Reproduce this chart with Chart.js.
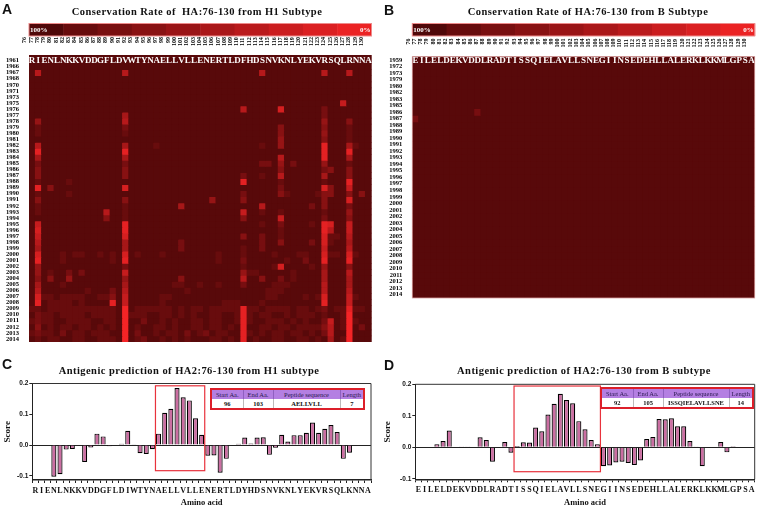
<!DOCTYPE html>
<html><head><meta charset="utf-8">
<script src="https://cdn.jsdelivr.net/npm/chart.js@4"></script>
<style>
html,body{margin:0;padding:0;background:#fff;width:758px;height:508px;overflow:hidden}
#page{position:relative;width:758px;height:508px;filter:blur(0.25px)}
canvas{position:absolute;display:block}
.t{position:absolute;font:bold 10.5px "Liberation Serif",serif;color:#111;letter-spacing:.45px;white-space:pre;transform:translate(-50%,-50%)}
.p{position:absolute;font:bold 14px "Liberation Sans",sans-serif;color:#111}
table{position:absolute;border-collapse:collapse;table-layout:fixed;border:2px solid #dc1f2a;background:#fff;font:bold 6.5px "Liberation Serif",serif;color:#111}
th,td{padding:0;height:9px;line-height:9px;text-align:center;border-left:1px solid #bbb;overflow:hidden;white-space:nowrap}
th{background:#b47fe2;font-weight:normal;color:#2a1a50;border-left:1px solid #8e5fc0}
</style></head><body><div id="page">
<div class="p" style="left:2px;top:1px">A</div>
<div class="p" style="left:384px;top:2px">B</div>
<div class="p" style="left:2px;top:356px">C</div>
<div class="p" style="left:384px;top:357px">D</div>
<div class="t" style="left:197px;top:11px">Conservation Rate of  HA:76-130 from H1 Subtype</div>
<div class="t" style="left:588px;top:11px">Conservation Rate of HA:76-130 from B Subtype</div>
<div class="t" style="left:189px;top:370px">Antigenic prediction of HA2:76-130 from H1 subtype</div>
<div class="t" style="left:584px;top:370px">Antigenic prediction of HA2:76-130 from B subtype</div>
<canvas id="a" width="380" height="330" style="left:0;top:20px"></canvas>
<canvas id="b" width="378" height="290" style="left:380px;top:20px"></canvas>
<canvas id="c" width="380" height="156" style="left:0;top:352px"></canvas>
<canvas id="d" width="378" height="156" style="left:380px;top:352px"></canvas>
<table id="tc" style="left:210px;top:388px;width:153px">
<colgroup><col style="width:32px"><col style="width:30px"><col style="width:67px"><col style="width:24px"></colgroup>
<tr><th>Start Aa.</th><th>End Aa.</th><th>Peptide sequence</th><th>Length</th></tr>
<tr><td>96</td><td>103</td><td>AELLVLL</td><td>7</td></tr></table>
<table id="td" style="left:600px;top:387px;width:152px">
<colgroup><col style="width:32px"><col style="width:30px"><col style="width:66px"><col style="width:24px"></colgroup>
<tr><th>Start Aa.</th><th>End Aa.</th><th>Peptide sequence</th><th>Length</th></tr>
<tr><td>92</td><td>105</td><td>ISSQIELAVLLSNE</td><td>14</td></tr></table>
</div>
<script>
const positions = [76,77,78,79,80,81,82,83,84,85,86,87,88,89,90,91,92,93,94,95,96,97,98,99,100,101,102,103,104,105,106,107,108,109,110,111,112,113,114,115,116,117,118,119,120,121,122,123,124,125,126,127,128,129,130];
const residuesA = ['R','I','E','N','L','N','K','K','V','D','D','G','F','L','D','V','W','T','Y','N','A','E','L','L','V','L','L','E','N','E','R','T','L','D','F','H','D','S','N','V','K','N','L','Y','E','K','V','R','S','Q','L','R','N','N','A'];
const residuesB = ['E','I','L','E','L','D','E','K','V','D','D','L','R','A','D','T','I','S','S','Q','I','E','L','A','V','L','L','S','N','E','G','I','I','N','S','E','D','E','H','L','L','A','L','E','R','K','L','K','K','M','L','G','P','S','A'];
const residuesC = ['R','I','E','N','L','N','K','K','V','D','D','G','F','L','D','I','W','T','Y','N','A','E','L','L','V','L','L','E','N','E','R','T','L','D','Y','H','D','S','N','V','K','N','L','Y','E','K','V','R','S','Q','L','K','N','N','A'];
const yearsA = [1961,1966,1967,1968,1970,1971,1973,1975,1976,1977,1978,1979,1980,1981,1982,1983,1984,1985,1986,1987,1988,1989,1990,1991,1992,1993,1994,1995,1996,1997,1998,1999,2000,2001,2002,2003,2004,2005,2006,2007,2008,2009,2010,2011,2012,2013,2014];
const yearsB = [1959,1972,1973,1979,1980,1982,1983,1985,1986,1987,1988,1989,1990,1991,1992,1993,1994,1995,1996,1997,1998,1999,2000,2001,2002,2003,2004,2005,2006,2007,2008,2009,2010,2011,2012,2013,2014];
// [year, column, level, column, level, ...]  level 0 (dark) .. 10 (bright)
const cellsA = [
[1967,1,6,15,6,37,6,47,6,51,6],
[1975,50,7],
[1976,34,6,40,8,47,2],
[1977,15,5,47,2],
[1978,1,4,15,6,47,4,51,3],
[1979,1,1,15,2,40,3,47,3,51,1],
[1980,1,1,15,1,40,3,47,4,51,1],
[1981,40,4,47,3,51,1],
[1982,1,6,15,5,20,1,37,1,40,4,47,9,51,5,52,1],
[1983,1,9,15,9,47,9,51,9],
[1984,1,5,15,5,40,6,47,9,51,5],
[1985,1,2,15,2,37,2,38,2,40,4,42,2,47,4,51,1],
[1986,1,3,15,3,40,3,47,2,48,3,51,3],
[1987,1,3,15,3,34,2,37,1,40,6,47,5,51,3],
[1988,1,1,6,1,34,9,40,1,47,1,51,9],
[1989,1,9,3,3,15,8,40,2,47,8,48,3,51,7],
[1990,1,1,6,1,34,2,40,3,41,1,46,1,47,3,48,3,51,3,53,3],
[1991,1,3,15,3,29,4,34,3,47,3,51,8],
[1992,1,1,15,1,24,5,37,6,45,2,47,3,51,2],
[1993,1,1,12,6,15,1,34,7,37,1,40,1,47,1,51,4],
[1994,12,3,15,1,34,3,40,7,47,2,51,3],
[1995,1,7,15,9,37,1,40,2,45,1,47,9,48,8,51,7],
[1996,1,8,15,9,40,1,47,9,48,6,51,7],
[1997,1,7,15,8,34,3,37,2,40,1,47,8,48,1,49,1,51,6],
[1998,1,6,15,5,24,2,37,2,40,3,45,2,47,8,48,1,51,5],
[1999,1,5,15,5,24,2,34,1,37,2,47,7,51,6],
[2000,1,8,5,1,7,1,8,1,11,1,13,1,15,8,17,1,21,1,30,1,34,1,39,1,43,1,44,1,47,8,48,1,49,1,51,8,52,1],
[2001,1,9,5,1,13,1,15,9,30,1,34,2,41,1,44,2,47,9,51,9],
[2002,1,4,15,2,34,1,39,1,40,8,45,1,47,4,51,3],
[2003,1,4,3,1,6,2,8,2,15,7,34,4,35,1,36,1,42,1,47,5,51,6],
[2004,1,3,3,3,6,4,15,4,24,3,34,6,37,3,40,2,42,1,47,5,51,5],
[2005,1,5,5,1,15,5,23,1,24,1,27,1,30,1,34,2,39,1,40,1,41,1,47,6,51,5],
[2006,1,6,9,1,13,2,15,6,25,1,38,1,39,1,40,1,47,6,51,6],
[2007,1,8,2,1,3,1,5,1,6,1,7,1,8,1,11,1,12,1,13,3,15,7,21,1,22,1,38,1,39,1,44,1,46,1,47,8,51,7,52,1],
[2008,1,9,3,1,4,1,5,1,6,1,8,1,13,9,15,7,21,1,31,1,32,1,33,1,37,1,47,9,51,7],
[2009,0,1,1,1,3,1,4,1,5,1,6,1,7,1,8,1,9,1,10,1,11,1,12,1,13,1,15,10,17,1,18,1,19,1,20,1,21,1,22,1,24,1,26,1,27,1,29,1,30,1,31,1,32,1,33,1,34,9,35,1,36,1,38,1,39,1,40,1,41,1,43,1,44,1,46,1,47,2,49,1,50,1,51,9,52,1,53,1],
[2010,1,2,2,1,3,1,5,1,6,1,7,1,8,1,10,1,11,1,12,1,13,1,15,10,16,1,17,1,18,1,21,1,22,1,24,1,26,1,29,1,30,1,33,1,34,9,35,1,37,1,38,1,41,1,43,1,44,1,45,1,47,1,50,1,51,10],
[2011,0,1,1,2,2,1,3,1,6,1,7,1,8,1,9,1,12,1,13,1,15,10,18,2,21,1,23,1,26,1,27,1,29,1,30,1,33,1,34,9,35,1,38,1,39,1,40,1,42,1,44,1,47,2,48,7,50,1,51,10,52,1],
[2012,1,3,3,1,5,1,6,1,8,1,9,1,11,1,13,1,15,10,17,1,20,1,21,1,23,1,26,1,27,1,29,1,30,1,32,1,34,9,37,1,38,1,40,1,41,1,43,1,44,1,45,1,46,1,47,3,48,6,50,1,51,10,53,2],
[2013,0,1,1,2,2,1,3,1,5,2,7,1,8,1,10,1,11,1,12,1,15,10,17,2,20,1,22,1,23,1,25,2,27,1,28,2,30,1,31,1,34,9,35,1,37,1,39,1,40,1,42,1,43,1,45,1,47,2,48,6,51,10],
[2014,1,1,3,1,4,1,7,1,8,1,11,1,12,1,13,1,15,10,17,1,18,2,21,1,23,1,25,1,29,1,30,1,32,1,34,9,36,1,39,1,40,1,43,1,44,1,46,1,48,5,50,1,51,10]
];
const cellsB = [[1986,10,2],[1987,0,2]];
const scoresC = [null,null,null,-0.103,-0.095,-0.015,-0.013,null,-0.055,-0.008,0.037,0.028,-0.004,-0.002,0.004,0.046,0.001,-0.027,-0.029,-0.014,0.037,0.105,0.118,0.185,0.155,0.145,0.087,0.033,-0.035,-0.034,-0.09,-0.045,0.002,0.004,0.024,0.005,0.024,0.025,-0.032,-0.009,0.033,0.011,0.032,0.032,0.04,0.073,0.04,0.053,0.065,0.042,-0.045,-0.025,null,null,null];
const scoresD = [null,null,null,0.01,0.02,0.053,null,0.001,0.001,0.002,0.032,0.023,-0.046,-0.002,0.017,-0.017,0.004,0.016,0.015,0.063,0.051,0.104,0.138,0.17,0.15,0.14,0.083,0.057,0.023,0.01,-0.06,-0.058,-0.048,-0.046,-0.05,-0.056,-0.042,0.026,0.033,0.09,0.089,0.092,0.067,0.067,0.02,0.001,-0.06,-0.002,-0.001,0.017,-0.016,0.003,null,null,null];
const legendLevels = [0,1,2,3,4,5,6,7,8,9];
const boxC = {first:20,last:27,top:0.1925,bottom:-0.0835};
const boxD = {first:16,last:29,top:0.1945,bottom:-0.0775};

const SERIF='"Liberation Serif",serif', SANS='"Liberation Sans",sans-serif';
function heat(level){const t=level/10;const r=Math.round(88+t*156),g=Math.round(9+t*27),b=Math.round(10+t*28);return `rgb(${r},${g},${b})`;}

function heatChart(id,years,cells,residues,extra,pad,frame){
  const levels=years.map(()=>positions.map(()=>0));
  cells.forEach(e=>{const r=years.indexOf(e[0]);for(let i=1;i<e.length;i+=2)levels[r][e[i]]=e[i+1];});
  const datasets=years.map((y,r)=>({label:String(y),data:positions.map(()=>r===0?1+extra:1),
    backgroundColor:levels[r].map(heat),borderWidth:0,barPercentage:1,categoryPercentage:1}));
  new Chart(document.getElementById(id),{type:'bar',data:{labels:positions.map(String),datasets},
   options:{responsive:false,animation:false,layout:{padding:pad},
    plugins:{legend:{display:false},tooltip:{enabled:false}},
    scales:{
     x:{position:'top',stacked:true,grid:{display:false},border:{display:false},
        afterFit(s){s.height=35;},
        ticks:{autoSkip:false,minRotation:90,maxRotation:90,padding:1,color:'#000',font:{family:SERIF,size:6,weight:'bold'},
               callback(v,i){const p=positions[i];return p<100?'\u2007'+p:String(p);}}},
     y:{reverse:true,stacked:true,min:0,max:years.length+extra,grid:{display:false},border:{display:false},
        afterFit(s){s.width=pad.yw;},
        afterBuildTicks(s){s.ticks=years.map((y,r)=>({value:r+extra+0.5}));},
        ticks:{autoSkip:false,padding:2,color:'#000',font:{family:SERIF,size:6.5,weight:'bold'},callback(v,i){return String(years[i]);}}}
    }},
   plugins:[{id:'heatExtras',
     beforeDatasetsDraw(c){const a=c.chartArea,x=c.ctx;x.save();x.fillStyle=heat(0);x.fillRect(a.left,a.top,a.width,a.height);x.restore();},
     afterDatasetsDraw(c){const a=c.chartArea,x=c.ctx,sx=c.scales.x,sy=c.scales.y;x.save();
       x.fillStyle='#fff';x.font='bold 9px '+SERIF;x.textAlign='center';x.textBaseline='middle';
       residues.forEach((t,i)=>x.fillText(t,sx.getPixelForValue(i),sy.getPixelForValue(extra+0.5)+0.5));
       const bt=3.5,bh=12.5,w=a.width/legendLevels.length;
       legendLevels.forEach((l,i)=>{x.fillStyle=heat(i===0?-0.5:l*1.05);x.fillRect(a.left+i*w,bt,w+0.5,bh);});
       x.strokeStyle='#ee8a8a';x.lineWidth=1;x.strokeRect(a.left,bt,a.width,bh);
       x.fillStyle='#fff';x.font='bold 7px '+SERIF;x.textAlign='left';x.fillText('100%',a.left+1,bt+bh/2);
       x.textAlign='right';x.fillText('0%',a.right-1,bt+bh/2);
       if(frame){x.strokeStyle=frame;x.lineWidth=0.8;x.strokeRect(a.left,a.top,a.width,a.height);}
       x.restore();}}]});
}
heatChart('a',yearsA,cellsA,residuesA,0.43,{left:0,right:8.5,top:0,bottom:8,yw:29},null);
heatChart('b',yearsB,cellsB,residuesB,0,{left:0,right:3.3,top:1.6,bottom:12,yw:32.3},'#d9a0a0');

function barChart(id,scores,residues,ymin,box,yw,right,top,bottom){
  new Chart(document.getElementById(id),{type:'bar',
   data:{labels:residues,datasets:[{data:scores,backgroundColor:'#cb6ea2',borderColor:'#000',borderWidth:1.2,barPercentage:0.82,categoryPercentage:1}]},
   options:{responsive:false,animation:false,layout:{padding:{left:0,right,top,bottom:0}},
    plugins:{legend:{display:false},tooltip:{enabled:false}},
    scales:{
     x:{grid:{drawOnChartArea:false,color:'#222',tickLength:3,lineWidth:1},border:{color:'#222',width:1.5},
        afterFit(s){s.height=bottom;},
        title:{display:true,text:'Amino acid',color:'#111',font:{family:SERIF,size:8.5,weight:'bold'},padding:{top:0,bottom:0}},
        ticks:{autoSkip:false,maxRotation:0,minRotation:0,padding:3,color:'#111',font:{family:SERIF,size:8,weight:'bold'}}},
     y:{min:ymin,max:0.2,
        afterFit(s){s.width=yw;},
        grid:{color:c=>Math.abs(c.tick.value)<1e-9?'#222':'transparent',tickColor:'#222',tickLength:3,lineWidth:1},
        border:{color:'#222',width:1},
        title:{display:true,text:'Score',color:'#111',font:{family:SERIF,size:9,weight:'bold'},padding:{top:2,bottom:0}},
        ticks:{stepSize:0.1,includeBounds:false,padding:1,color:'#111',font:{family:SANS,size:6.5,weight:'bold'},callback:v=>Number(v).toFixed(1)}}
    }},
   plugins:[{id:'panelExtras',afterDatasetsDraw(c){const a=c.chartArea,x=c.ctx,sx=c.scales.x,sy=c.scales.y;x.save();
      x.strokeStyle='#333';x.lineWidth=1;x.beginPath();x.moveTo(a.left,a.top);x.lineTo(a.right,a.top);x.lineTo(a.right,a.bottom);x.stroke();
      const hw=(sx.getPixelForValue(1)-sx.getPixelForValue(0))/2;
      const l=sx.getPixelForValue(box.first)-hw,r=sx.getPixelForValue(box.last)+hw,t=sy.getPixelForValue(box.top),b=sy.getPixelForValue(box.bottom);
      x.strokeStyle='#e8323c';x.lineWidth=1.2;x.strokeRect(l,t,r-l,b-t);x.restore();}}]});
}
barChart('c',scoresC,residuesC,-0.1138,boxC,32.3,9,31.5,28);
barChart('d',scoresD,residuesB,-0.1016,boxD,35.3,3.3,32.3,28.7);
</script></body></html>
